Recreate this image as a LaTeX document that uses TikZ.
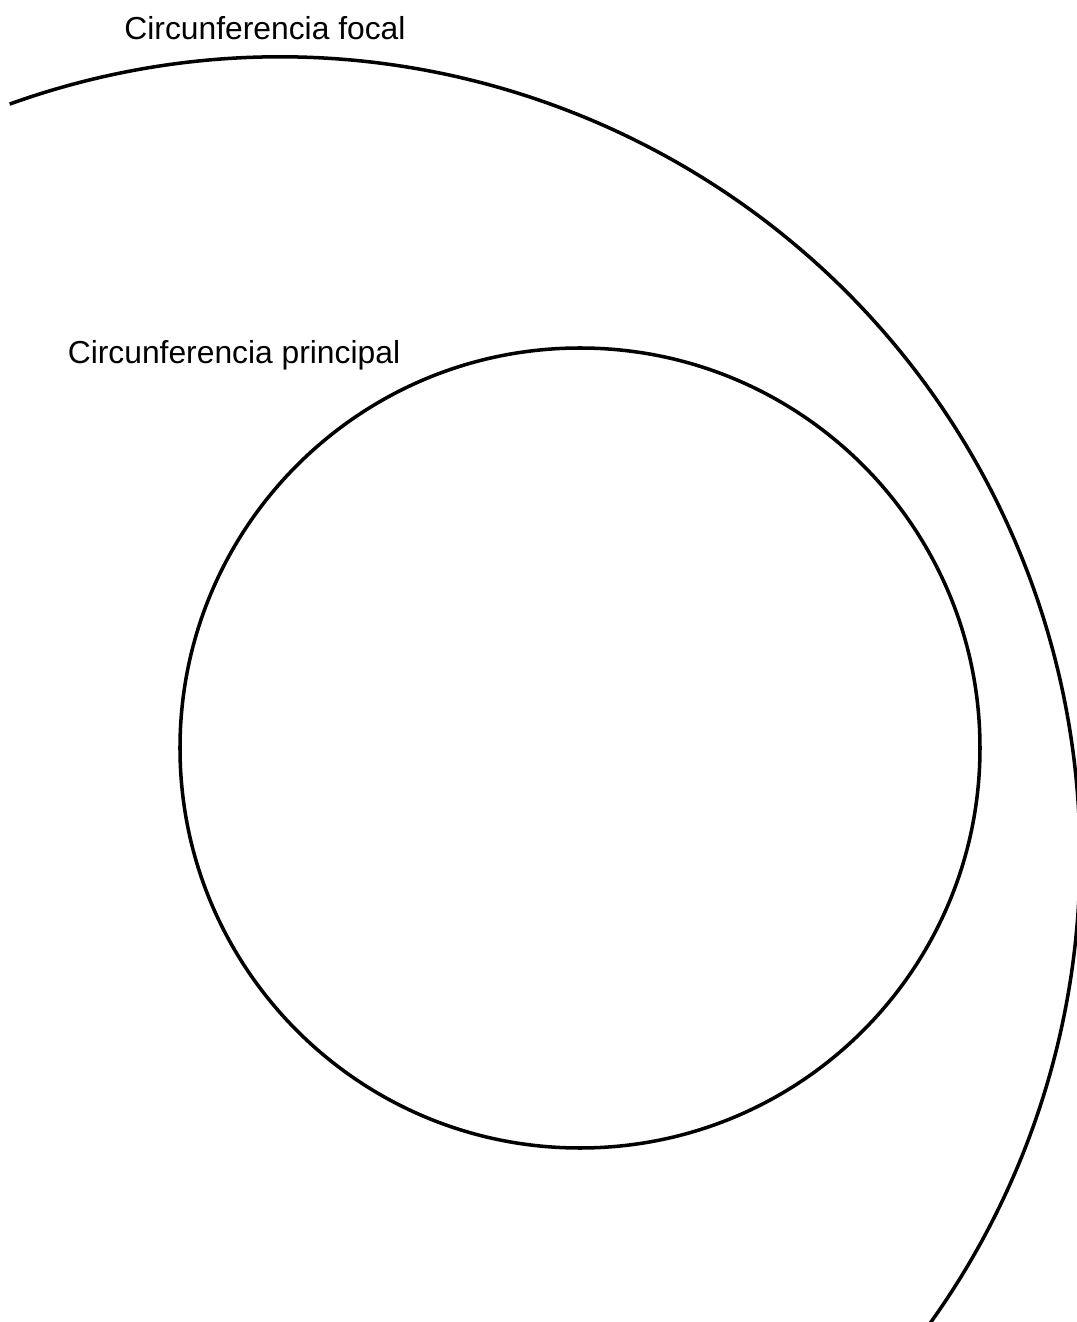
\documentclass[tikz,border=0pt]{standalone}
\usepackage{fontspec}
\setmainfont{Liberation Sans}
\usepackage{tikz}
\usetikzlibrary{calc, positioning}
\tikzset{
	line width = 1pt,
	font = \fontsize{9.05}{10}\selectfont,
	circ/.style={
		draw,
		line width=1pt
	},
	caption/.style={
		inner sep=0pt
	}
}
\begin{document}
\begin{tikzpicture}
		\useasboundingbox (-5.80,-5.74) rectangle (4.97,7.48);
		\clip (-5.80,-5.74) rectangle (4.97,7.48);

		\coordinate (O) at (0,0);
		\coordinate (F) at (-3,-1.09);

		% circunferencia principal
		\draw[circ] (O) circle (4);
		% circunferencia focal
		\draw[circ] ($(F)+(109.75:8)$) arc (109.75:-40:8);

		\node[caption] (focal) at (-3.15,7.20) {Circunferencia focal};
		\node[caption] (principal) at (-3.46,3.93) {Circunferencia principal};
	\end{tikzpicture}
\end{document}
